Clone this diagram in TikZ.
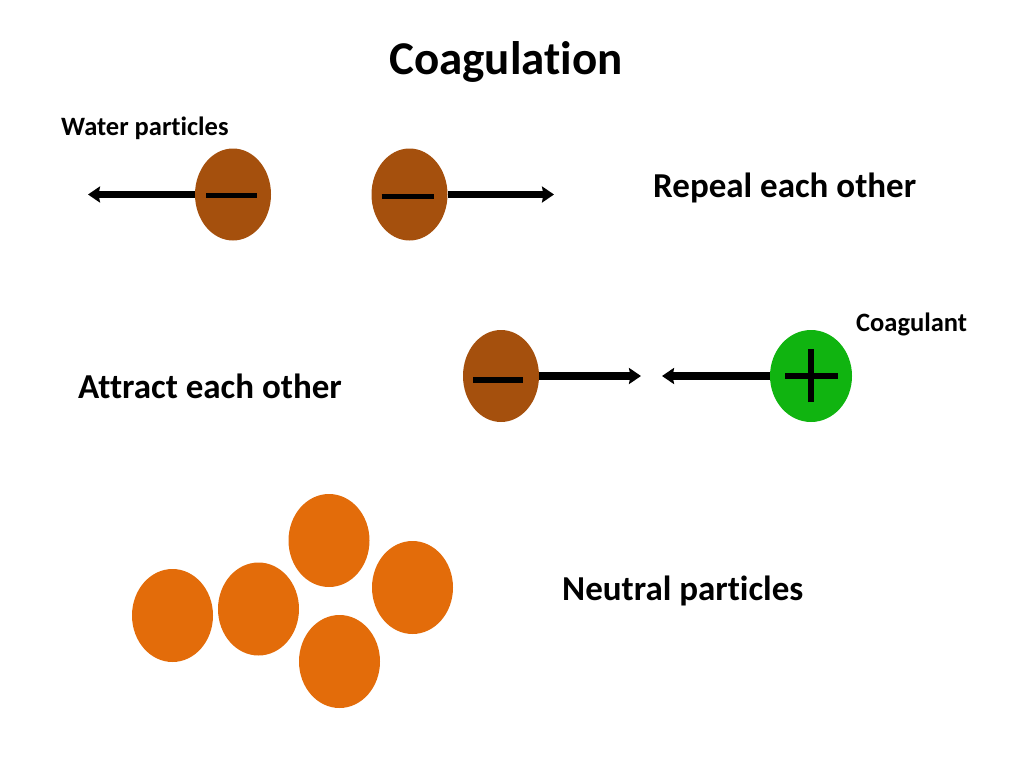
\documentclass[tikz,border=0pt]{standalone}
\usepackage{fontspec}
\setmainfont[Ligatures={NoCommon}]{Carlito}
\usetikzlibrary{shapes.geometric,arrows.meta}
\definecolor{brownp}{RGB}{165,80,13}
\definecolor{orangep}{RGB}{227,108,10}
\definecolor{greenp}{RGB}{16,180,16}
\tikzset{
  partshape/.style={ellipse,draw=none,inner sep=0pt,minimum width=#1},
  negpart/.style={partshape=76pt,minimum height=92pt,fill=brownp},
  pospart/.style={partshape=82pt,minimum height=92pt,fill=greenp},
  neutralpart/.style={partshape=81pt,minimum height=93pt,fill=orangep},
  arr/.style={line width=7.5pt,-{Stealth[length=12pt,width=16pt,inset=1.5pt]}},
  signline/.style={line width=5.5pt},
  lbl/.style={font=\bfseries,inner sep=0pt,anchor=west},
  small/.style={font=\bfseries\fontsize{26.5}{30}\selectfont},
  big/.style={font=\bfseries\fontsize{35}{40}\selectfont},
}
\begin{document}
\begin{tikzpicture}[x=1pt,y=-1pt]
\useasboundingbox (0,0) rectangle (1024,768);
\node[font=\bfseries\fontsize{47}{54}\selectfont,inner sep=0pt] (title) at (506,62) {Coagulation};
\node[lbl,small] (wp) at (61,128) {Water particles};
\node[lbl,big] (rep) at (653,188) {Repeal each other};
\node[lbl,small] (coag) at (856,324) {Coagulant};
\node[lbl,big] (att) at (78,386) {Attract each other};
\node[lbl,big] (neu) at (562,591) {Neutral particles};
% top row
\node[negpart] (b1) at (233,194.5) {};
\node[negpart] (b2) at (409.5,194.5) {};
\coordinate (t1) at (88,194.5);
\coordinate (t2) at (554,194.5);
\draw[arr] (b1.west) -- (t1);
\draw[arr] (b2.east) -- (t2);
\draw[signline] ([xshift=-27pt,yshift=-1pt]b1.center) -- ([xshift=24pt,yshift=-1pt]b1.center);
\draw[signline] ([xshift=-28pt,yshift=-2pt]b2.center) -- ([xshift=24pt,yshift=-2pt]b2.center);
% middle row
\node[negpart] (b3) at (501,376) {};
\node[pospart] (g1) at (811,376) {};
\coordinate (t3) at (641,376);
\coordinate (t4) at (662,376);
\draw[arr] (b3.east) -- (t3);
\draw[arr] (g1.west) -- (t4);
\draw[signline] ([xshift=-28pt,yshift=-4pt]b3.center) -- ([xshift=22pt,yshift=-4pt]b3.center);
\draw[signline] ([xshift=-26pt]g1.center) -- ([xshift=27pt]g1.center);
\draw[signline] ([yshift=-26pt]g1.center) -- ([yshift=27pt]g1.center);
% neutral particles
\node[neutralpart] (n1) at (172.5,615.5) {};
\node[neutralpart] (n2) at (258.5,609) {};
\node[neutralpart] (n3) at (329,540.5) {};
\node[neutralpart] (n4) at (412.5,587.5) {};
\node[neutralpart] (n5) at (339.5,661.5) {};
\end{tikzpicture}
\end{document}
